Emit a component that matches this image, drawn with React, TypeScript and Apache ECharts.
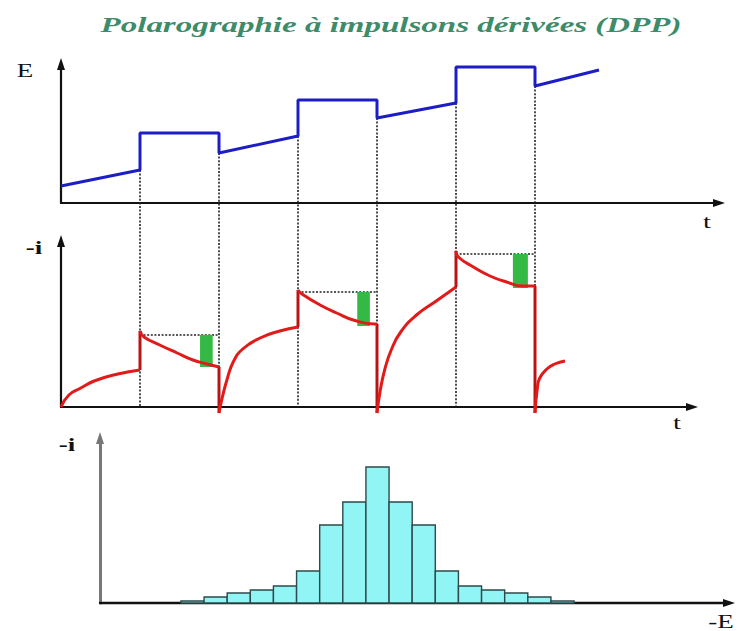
import React, { useEffect, useRef } from "react";
import * as echarts from "echarts";

// ---------- data ----------
// time in ms-like units, pulses start every 20 units, last 10 units
const pulseTimes = [10, 20, 30, 40, 50, 60];
// applied potential E (staircase ramp + pulses)
const potentialLine = [
  [0, 17], [10, 33], [10, 70], [20, 70], [20, 50], [30, 67], [30, 103], [40, 103],
  [40, 85], [50, 100], [50, 136], [60, 136], [60, 117], [68.1, 133],
];
// lower E value where each dotted guide starts
const guideStartE = [33, 50, 67, 85, 100, 117];

// current -i, drawn segment by segment
const redRise0 = [[0, 0], [1, 12], [2.5, 19], [4.2, 26], [7.2, 33], [10, 37]];
const redDecay1 = [[10, 76], [10.5, 70], [12.5, 62], [14.7, 54], [16.7, 47], [18.5, 43], [20, 40]];
const redRise1 = [[20, -6], [20.4, 9], [21, 27], [21.8, 45], [23, 58], [25.2, 69], [27.7, 76], [30, 80]];
const redDecay2 = [[30, 117], [30.5, 113], [32.8, 102], [34.9, 94], [37, 87], [39.7, 83], [40, 83]];
const redRise2 = [[40, -6], [40.4, 16], [41, 38], [41.8, 57], [43, 75], [45, 92], [47.5, 106], [50, 120]];
const redDecay3 = [[50, 156], [50.3, 150], [52.2, 140], [54.3, 131], [56.4, 125], [58.5, 121], [60, 121]];
const redRise3 = [[60, -6], [60.3, 19], [60.6, 29], [61.5, 38], [62.5, 43], [63.8, 46]];
const redSegments = [redRise0, redDecay1, redRise1, redDecay2, redRise2, redDecay3, redRise3];

// dotted plateau levels [tStart, tEnd, level]
const plateauLevels = [[10, 20, 72], [30, 40, 115], [50, 60, 153]];
// sampled current differences [tStart, tEnd, top, bottom]
const greenBars = [[17.6, 19.2, 72, 40], [37.5, 39.1, 115, 81], [57.2, 59.1, 153, 119]];

// resulting DPP peak (histogram)
const histBins = [4, 5, 6, 7, 8, 9, 10, 11, 12, 13, 14, 15, 16, 17, 18, 19, 20];
const histHeights = [2, 6, 10, 13, 17, 32, 78, 101, 136, 101, 78, 32, 17, 13, 10, 6, 2];

// ---------- layout ----------
const TOP = { left: 61, top: 64, width: 658, height: 139 };
const MID = { left: 61, top: 241, width: 631, height: 166 };
const BOT = { left: 100, top: 438, width: 629, height: 165 };
const PX_PER_T = 7.9;
const TOP_YMAX = 139;
const MID_YMAX = 166;
const BOT_XMAX = 27.2;
const BOT_YMAX = 165;

const axisBase = (color: string, width: number, show = true) => ({
  show,
  axisLine: {
    show,
    onZero: true,
    symbol: ["none", "triangle"],
    symbolSize: [8, 12],
    lineStyle: { color, width },
  },
  axisTick: { show: false },
  axisLabel: { show: false },
  splitLine: { show: false },
});

const dotted = { color: "#222", width: 1.6, type: [2, 1.6] as any };
const SERIF = "'Liberation Serif', 'DejaVu Serif', serif";

export default function App() {
  const ref = useRef<HTMLDivElement>(null);

  useEffect(() => {
    if (!ref.current) return;
    const chart = echarts.init(ref.current, undefined, { renderer: "svg" });

    const topPxPerUnit = TOP.height / TOP_YMAX;
    const guideBottom = -((MID.top + MID.height) - (TOP.top + TOP.height)) / topPxPerUnit;

    const series: any[] = [];

    // vertical dotted guides
    pulseTimes.forEach((t, i) => {
      series.push({
        type: "line",
        xAxisIndex: 0,
        yAxisIndex: 0,
        clip: false,
        symbol: "none",
        z: 1,
        lineStyle: dotted,
        data: [[t, guideStartE[i]], [t, guideBottom]],
      });
    });

    // potential
    series.push({
      type: "line",
      xAxisIndex: 0,
      yAxisIndex: 0,
      symbol: "none",
      z: 4,
      lineStyle: { color: "#1d1dc6", width: 3 },
      data: potentialLine,
    });

    // plateau dotted lines
    plateauLevels.forEach((p) => {
      series.push({
        type: "line",
        xAxisIndex: 1,
        yAxisIndex: 1,
        symbol: "none",
        z: 1,
        lineStyle: dotted,
        data: [[p[0], p[2]], [p[1], p[2]]],
      });
    });

    // green sampled differences
    series.push({
      type: "custom",
      xAxisIndex: 1,
      yAxisIndex: 1,
      z: 2,
      data: greenBars,
      renderItem: (_p: any, api: any) => {
        const a = api.coord([api.value(0), api.value(2)]);
        const b = api.coord([api.value(1), api.value(3)]);
        return {
          type: "rect",
          shape: { x: a[0], y: a[1], width: b[0] - a[0], height: b[1] - a[1] },
          style: { fill: "#34b944" },
        };
      },
    });

    // red current curves
    redSegments.forEach((seg, k) => {
      series.push({
        type: "line",
        xAxisIndex: 1,
        yAxisIndex: 1,
        clip: false,
        symbol: "none",
        smooth: 0.5,
        z: 4,
        lineStyle: { color: "#e11a1a", width: 3 },
        data: seg,
      });
      const next = redSegments[k + 1];
      if (next) {
        series.push({
          type: "line",
          xAxisIndex: 1,
          yAxisIndex: 1,
          clip: false,
          symbol: "none",
          z: 3,
          lineStyle: { color: "#b81414", width: 3 },
          data: [seg[seg.length - 1], next[0]],
        });
      }
    });

    // histogram
    series.push({
      type: "custom",
      xAxisIndex: 2,
      yAxisIndex: 2,
      z: 2,
      data: histBins.map((c, i) => [c, histHeights[i]]),
      renderItem: (_p: any, api: any) => {
        const c = api.value(0);
        const a = api.coord([c - 0.5, api.value(1)]);
        const b = api.coord([c + 0.5, 0]);
        return {
          type: "rect",
          shape: { x: a[0], y: a[1], width: b[0] - a[0], height: b[1] - a[1] },
          style: { fill: "#92f5f5", stroke: "#2e4a4a", lineWidth: 1.4 },
        };
      },
    });

    const label = (text: string, x: number, y: number, size: number, weight = "normal") => ({
      type: "text",
      x,
      y,
      scaleX: 1.5,
      style: {
        text,
        fill: "#111",
        font: `${weight} ${size}px ${SERIF}`,
        align: "center",
        verticalAlign: "middle",
      },
    });

    chart.setOption({
      animation: false,
      backgroundColor: "#ffffff",
      grid: [
        { ...TOP, outerBoundsMode: "none" },
        { ...MID, outerBoundsMode: "none" },
        { ...BOT, outerBoundsMode: "none" },
      ],
      xAxis: [
        { type: "value", gridIndex: 0, min: 0, max: TOP.width / PX_PER_T, ...axisBase("#111", 2.2) },
        { type: "value", gridIndex: 1, min: 0, max: MID.width / PX_PER_T, ...axisBase("#111", 2.2) },
        { type: "value", gridIndex: 2, min: 0, max: BOT_XMAX, ...axisBase("#111", 2.4) },
      ],
      yAxis: [
        { type: "value", gridIndex: 0, min: 0, max: TOP_YMAX, ...axisBase("#111", 2.2) },
        { type: "value", gridIndex: 1, min: 0, max: MID_YMAX, ...axisBase("#111", 2.2) },
        { type: "value", gridIndex: 2, min: 0, max: BOT_YMAX, ...axisBase("#777", 3) },
      ],
      graphic: [
        {
          type: "text",
          x: 391,
          y: 25,
          scaleX: 1.5,
          style: {
            text: "Polarographie à impulsons dérivées (DPP)",
            fill: "#3c8c69",
            font: `italic bold 22px ${SERIF}`,
            align: "center",
            verticalAlign: "middle",
          },
        },
        label("E", 25, 71, 18),
        label("t", 707, 221, 19),
        label("-i", 34, 248, 18, "bold"),
        label("t", 677, 422, 19),
        label("-i", 67, 445, 18, "bold"),
        label("-E", 721, 622, 18),
      ],
      series,
    });

    return () => chart.dispose();
  }, []);

  return (
    <div
      ref={ref}
      style={{ position: "absolute", left: 0, top: 0, width: 737, height: 631, background: "#fff" }}
    />
  );
}
